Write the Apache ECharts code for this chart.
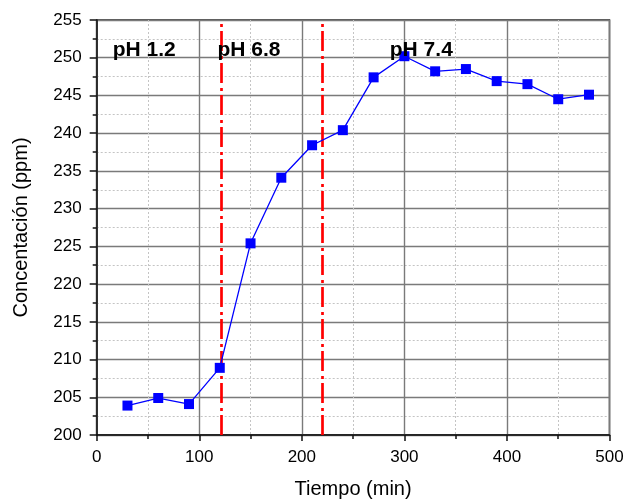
<!DOCTYPE html>
<html>
<head>
<meta charset="utf-8">
<script src="https://cdn.jsdelivr.net/npm/echarts@6/dist/echarts.min.js"></script>
<style>
html,body{margin:0;padding:0;background:#fff;}
#c{width:623px;height:499px;}
</style>
</head>
<body>
<div id="c"></div>
<script>
var times = [30, 60, 90, 120, 150, 180, 210, 240, 270, 300, 330, 360, 390, 420, 450, 480];
var concentration = [203.9, 204.9, 204.1, 208.9, 225.4, 234.1, 238.4, 240.4, 247.4, 250.2, 248.2, 248.5, 246.9, 246.5, 244.5, 245.1];
var phBoundaries = [121, 220];
var phLabels = ['pH 1.2', 'pH 6.8', 'pH 7.4'];
var phLabelX = [46.3, 148.5, 316.5];
var phLabelY = [251.0, 251.0, 251.0];
var xTicks = [0, 100, 200, 300, 400, 500];
var yTicks = [200, 205, 210, 215, 220, 225, 230, 235, 240, 245, 250, 255];

var seriesData = times.map(function (t, i) { return [t, concentration[i]]; });
var labelData = phLabels.map(function (s, i) { return [phLabelX[i], phLabelY[i], s]; });

var chart = echarts.init(document.getElementById('c'), null, {renderer: 'canvas'});
var fontFam = '"Liberation Sans", Arial, sans-serif';
chart.setOption({
  animation: false,
  backgroundColor: '#ffffff',
  grid: {left: 96.7, right: 13.5, top: 20, bottom: 64, containLabel: false, outerBoundsMode: 'none',
         show: true, borderColor: '#222', borderWidth: 1.5},
  xAxis: {
    type: 'value', min: xTicks[0], max: xTicks[xTicks.length - 1], interval: 100,
    name: 'Tiempo (min)', nameLocation: 'middle', nameGap: 44,
    nameTextStyle: {fontFamily: fontFam, fontSize: 20, color: '#000'},
    axisLine: {show: true, onZero: false, lineStyle: {color: '#111', width: 1.5}},
    axisTick: {show: true, inside: false, length: 6, lineStyle: {color: '#111', width: 1.5}},
    minorTick: {show: true, splitNumber: 2, length: 4, lineStyle: {color: '#111', width: 1.5}},
    axisLabel: {margin: 14, fontFamily: fontFam, fontSize: 17, color: '#000'},
    splitLine: {show: true, lineStyle: {color: '#7a7a7a', width: 1.4}},
    minorSplitLine: {show: true, lineStyle: {color: '#c4c4c4', width: 1, type: [2, 2]}}
  },
  yAxis: {
    type: 'value', min: yTicks[0], max: yTicks[yTicks.length - 1], interval: 5,
    name: 'Concentación (ppm)', nameLocation: 'middle', nameGap: 65,
    nameTextStyle: {fontFamily: fontFam, fontSize: 20, color: '#000'},
    axisLine: {show: true, onZero: false, lineStyle: {color: '#111', width: 1.5}},
    axisTick: {show: true, inside: false, length: 7, lineStyle: {color: '#111', width: 1.5}},
    minorTick: {show: true, splitNumber: 2, length: 4, lineStyle: {color: '#111', width: 1.5}},
    axisLabel: {margin: 15, fontFamily: fontFam, fontSize: 17, color: '#000'},
    splitLine: {show: true, lineStyle: {color: '#7a7a7a', width: 1.4}},
    minorSplitLine: {show: true, lineStyle: {color: '#c4c4c4', width: 1, type: [2, 2]}}
  },
  series: [
    {
      type: 'line', data: seriesData, symbol: 'rect', symbolSize: 10,
      lineStyle: {color: '#0000ff', width: 1.3},
      itemStyle: {color: '#0000ff'},
      z: 5,
      markLine: {
        silent: true, symbol: 'none', label: {show: false},
        lineStyle: {color: '#ff0000', width: 2.7, type: [20, 4, 3, 5]},
        data: phBoundaries.map(function (b) { return {xAxis: b}; })
      }
    },
    {
      type: 'scatter', data: labelData, symbolSize: 0, z: 10,
      itemStyle: {opacity: 1},
      label: {
        show: true, position: 'inside',
        formatter: function (p) { return p.value[2]; },
        fontFamily: fontFam, fontSize: 21, fontWeight: 'bold', color: '#000', opacity: 1
      }
    }
  ]
});
</script>
</body>
</html>
